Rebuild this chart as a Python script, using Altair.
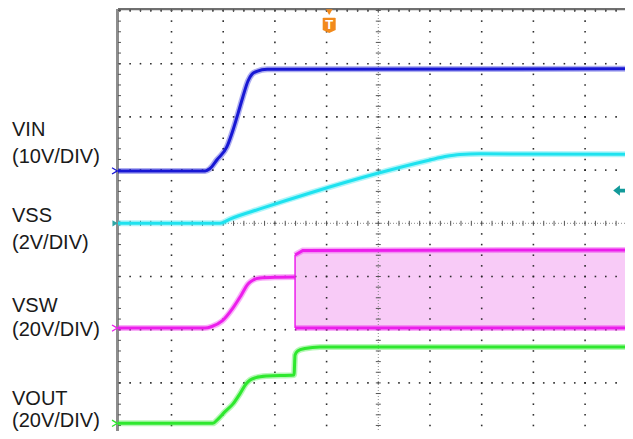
import altair as alt
import pandas as pd

# ---------------- data: time in screen divisions (0 = centre graticule), volts per channel
VIN_T = [-5.1, -3.35, -3.26, -3.12, -2.93, -2.81, -2.71, -2.62, -2.52, -2.44, -2.35, -2.15, 5.0]
VIN_V = [0.0, 0.0, 0.4, 2.1, 4.5, 7.7, 10.9, 13.9, 16.9, 18.2, 18.7, 19.1, 19.2]

VSS_T = [-5.1, -3.06, -2.87, -2.29, -1.32, -0.03, 1.0, 1.29, 1.58, 1.97, 5.0]
VSS_V = [0.0, 0.0, 0.16, 0.54, 1.14, 1.87, 2.38, 2.51, 2.59, 2.61, 2.59]

VSW_T = [-5.1, -3.35, -3.22, -3.02, -2.81, -2.66, -2.52, -2.42, -2.29, -2.0, -1.61]
VSW_V = [0.0, 0.0, 0.6, 2.7, 7.6, 12.1, 16.6, 18.1, 18.8, 19.1, 19.2]

SW_T = [-1.61, -1.46, 5.0]
SW_HI = [27.5, 29.2, 29.4]
SW_LO = [0.0, 0.0, 0.0]

VOUT_T = [-5.1, -3.2, -3.1, -2.97, -2.81, -2.68, -2.56, -2.48, -2.37, -2.15, -1.63,
          -1.61, -1.56, -1.42, -1.13, 5.0]
VOUT_V = [0.0, 0.0, 1.6, 4.3, 7.3, 11.0, 14.8, 16.3, 17.2, 17.8, 18.2,
          25.7, 27.2, 28.1, 28.7, 28.7]

CHANNELS = ["VIN", "VSS", "VSW", "VOUT"]
VOLTS_PER_DIV = [10, 2, 20, 20]
GROUND_DIV = [0.985, 0.0, -1.97, -3.76]
SCALE_LABELS = ["(10V/DIV)", "(2V/DIV)", "(20V/DIV)", "(20V/DIV)"]

TRIGGER_T = -0.95          # trigger position (divisions)
TRIGGER_LEVEL_V = 1.23     # trigger level on VSS (volts)

# ---------------- styling
COLORS = ["#1818d4", "#1ee2ef", "#ec1eec", "#2ee82e"]
MARKER_COLORS = ["#7070e8", "#2fa6a6", "#e070e0", "#50d050"]
X_DOM = [-5.035, 4.772]
Y_DOM = [-3.904, 4.028]

xs = alt.Scale(domain=X_DOM, nice=False, zero=False)
ys = alt.Scale(domain=Y_DOM, nice=False, zero=False)


def X(f="t"):
    return alt.X(f"{f}:Q", scale=xs, axis=None)


def Y(f="y"):
    return alt.Y(f"{f}:Q", scale=ys, axis=None)


def to_div(ch, v):
    i = CHANNELS.index(ch)
    return GROUND_DIV[i] + v / VOLTS_PER_DIV[i]


rows = []
for ch, T, V in [("VIN", VIN_T, VIN_V), ("VSS", VSS_T, VSS_V),
                 ("VSW", VSW_T, VSW_V), ("VOUT", VOUT_T, VOUT_V)]:
    for k, (t, v) in enumerate(zip(T, V)):
        rows.append({"ch": ch, "t": t, "y": to_div(ch, v), "k": k})
traces = pd.DataFrame(rows)

band = pd.DataFrame({"t": SW_T,
                     "hi": [to_div("VSW", v) for v in SW_HI],
                     "lo": [to_div("VSW", v) for v in SW_LO]})
edge_rows = []
for k, (t, v) in enumerate(zip(SW_T, SW_HI)):
    edge_rows.append({"e": "hi", "t": t, "y": to_div("VSW", v), "k": k})
for k, (t, v) in enumerate(zip(SW_T, SW_LO)):
    edge_rows.append({"e": "lo", "t": t, "y": to_div("VSW", v), "k": k})
edges = pd.DataFrame(edge_rows)
band_left = pd.DataFrame({"t": [SW_T[0]], "y": [to_div("VSW", SW_LO[0])],
                          "y2": [to_div("VSW", SW_HI[0])]})

# graticule
dots = []
for t in [-4, -3, -2, -1, 1, 2, 3, 4]:
    for k in range(-20, 21):
        dots.append({"t": t, "y": k / 5})
for y in [-4, -3, -2, -1, 1, 2, 3, 4]:
    for k in range(-25, 25):
        dots.append({"t": k / 5, "y": y})
dots = pd.DataFrame(dots)
vticks = pd.DataFrame({"t": [0.0] * 41, "y": [k / 5 for k in range(-20, 21)]})
hticks = pd.DataFrame({"t": [k / 5 for k in range(-25, 25)], "y": [0.0] * 50})
lticks = pd.DataFrame({"t": [X_DOM[0]] * 41, "y": [k / 5 for k in range(-20, 21)]})
tticks = pd.DataFrame({"t": [k / 5 for k in range(-25, 25)], "y": [Y_DOM[1]] * 50})

color_scale = alt.Scale(domain=CHANNELS, range=COLORS)

layers = []
layers.append(alt.Chart(band).mark_area(color="#f4a8f1", opacity=0.6, clip=True)
              .encode(x=X(), y=Y("hi"), y2="lo:Q"))
layers.append(alt.Chart(dots).mark_square(size=2.5, color="#222222", opacity=0.95)
              .encode(x=X(), y=Y()))
layers.append(alt.Chart(pd.DataFrame({"t": [0.0]}))
              .mark_rule(color="#8a8a8a", strokeWidth=1, strokeDash=[1, 2]).encode(x=X()))
layers.append(alt.Chart(pd.DataFrame({"y": [0.0]}))
              .mark_rule(color="#8a8a8a", strokeWidth=1, strokeDash=[1, 2]).encode(y=Y()))
layers.append(alt.Chart(vticks).mark_point(shape="M-1,0L1,0", size=25, strokeWidth=1,
                                           color="#555555", opacity=1)
              .encode(x=X(), y=Y()))
layers.append(alt.Chart(hticks).mark_point(shape="M0,-1L0,1", size=25, strokeWidth=1,
                                           color="#555555", opacity=1)
              .encode(x=X(), y=Y()))
# frame
layers.append(alt.Chart(pd.DataFrame({"a": [0]})).mark_rule(color="#8c8c8c", strokeWidth=3)
              .encode(x=alt.value(-0.5)))
layers.append(alt.Chart(pd.DataFrame({"a": [0]})).mark_rule(color="#707070", strokeWidth=2.5)
              .encode(y=alt.value(0)))
layers.append(alt.Chart(lticks).mark_point(shape="M0,0L1,0", size=36, strokeWidth=1,
                                           color="#555555", opacity=1)
              .encode(x=X(), y=Y()))
layers.append(alt.Chart(tticks).mark_point(shape="M0,0L0,1", size=36, strokeWidth=1,
                                           color="#555555", opacity=1)
              .encode(x=X(), y=Y()))
# switching band edges
layers.append(alt.Chart(band_left).mark_rule(color="#ec1eec", strokeWidth=1.5, clip=True)
              .encode(x=X(), y=Y(), y2="y2:Q"))
layers.append(alt.Chart(edges).mark_line(color="#ec1eec", strokeWidth=6, opacity=0.35, clip=True)
              .encode(x=X(), y=Y(), detail="e:N", order="k:Q"))
layers.append(alt.Chart(edges).mark_line(color="#ec1eec", strokeWidth=3, clip=True)
              .encode(x=X(), y=Y(), detail="e:N", order="k:Q"))
# traces: soft halo (noise) + core
layers.append(alt.Chart(traces).mark_line(strokeWidth=6, opacity=0.35, clip=True,
                                          interpolate="monotone")
              .encode(x=X(), y=Y(), order="k:Q",
                      color=alt.Color("ch:N", scale=color_scale, legend=None)))
layers.append(alt.Chart(traces).mark_line(strokeWidth=3, clip=True, interpolate="monotone")
              .encode(x=X(), y=Y(), order="k:Q",
                      color=alt.Color("ch:N", scale=color_scale, legend=None)))
# channel ground markers
gm = pd.DataFrame({"ch": CHANNELS, "t": [X_DOM[0] - 0.055] * 4, "y": GROUND_DIV})
layers.append(alt.Chart(gm[gm.ch != "VSS"]).mark_point(shape="M-1,-1L0.7,0L-1,1", size=40,
                                                       strokeWidth=1.3, filled=False, opacity=1)
              .encode(x=X(), y=Y(),
                      color=alt.Color("ch:N", scale=alt.Scale(domain=CHANNELS, range=MARKER_COLORS),
                                      legend=None)))
layers.append(alt.Chart(gm[gm.ch == "VSS"]).mark_point(shape="triangle-right", size=40,
                                                       filled=True, opacity=1, color="#2fa6a6")
              .encode(x=X(), y=Y()))
# trigger level arrow (right edge) and trigger position marker (top)
tl = pd.DataFrame({"t": [X_DOM[1] - 0.11], "y": [to_div("VSS", TRIGGER_LEVEL_V)]})
layers.append(alt.Chart(tl).mark_point(
    shape="M-1,0L0.1,-0.85L0.1,-0.3L1,-0.3L1,0.3L0.1,0.3L0.1,0.85Z",
    size=150, filled=True, opacity=1, color="#129a9a").encode(x=X(), y=Y()))
tp = pd.DataFrame({"t": [TRIGGER_T], "y": [3.97], "yb": [3.725], "txt": ["T"]})
layers.append(alt.Chart(tp).mark_point(shape="triangle-down", size=45, filled=True,
                                       opacity=1, color="#f28a1c")
              .encode(x=X(), y=Y()))
layers.append(alt.Chart(tp).mark_point(
    shape="M-0.85,-1.15L0.85,-1.15Q1,-1.15 1,-1L1,0.75L0,1.2L-1,0.75L-1,-1Q-1,-1.15 -0.85,-1.15Z",
    size=169, filled=True, opacity=1, color="#f28a1c").encode(x=X(), y=Y("yb")))
layers.append(alt.Chart(tp).mark_text(color="white", fontSize=13, fontWeight="bold",
                                      font="Liberation Sans", baseline="middle")
              .encode(x=X(), y=Y("yb"), text="txt:N"))

# channel labels
label_pos = [(127, 154.3), (213.3, 240.3), (303.3, 327), (395.5, 417.5)]
for ch, sl, (y1, y2) in zip(CHANNELS, SCALE_LABELS, label_pos):
    for txt, yy in [(ch, y1), (sl, y2)]:
        layers.append(alt.Chart(pd.DataFrame({"txt": [txt]})).mark_text(
            align="left", baseline="alphabetic", fontSize=20, font="Liberation Sans",
            color="#1a1a1a").encode(x=alt.value(-106), y=alt.value(yy), text="txt:N"))

chart = alt.layer(*layers).properties(
    width=507, height=422,
    padding={"left": 110, "top": 1, "right": 0, "bottom": 0},
    autosize=alt.AutoSizeParams(type="none"),
    background="white",
).configure_view(stroke=None)

chart.save("out.html", embed_options={"renderer": "svg", "actions": False})
